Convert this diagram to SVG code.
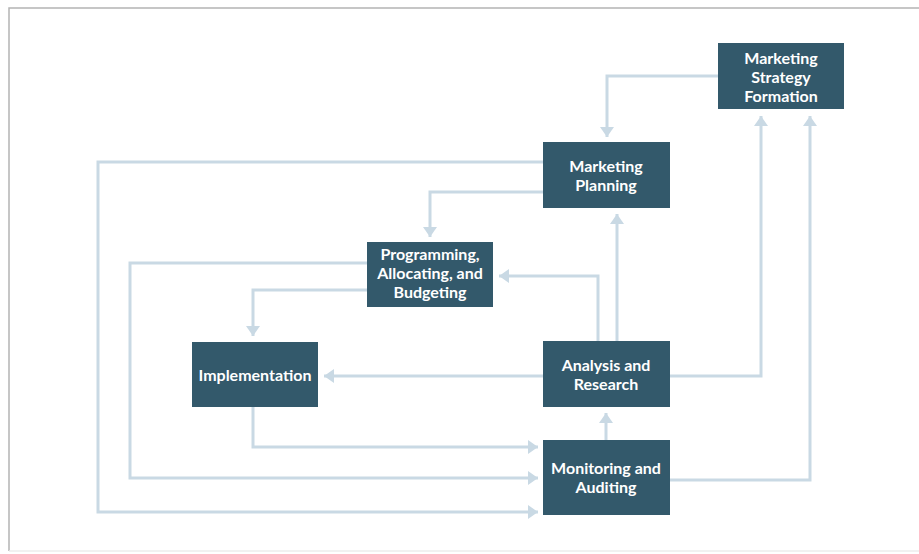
<svg xmlns="http://www.w3.org/2000/svg" width="919" height="554" viewBox="0 0 919 554">
  <style>
    .box { fill: #33596b; }
    .label { fill: #ffffff; font-family: Lato, "Liberation Sans", sans-serif; font-weight: 700; font-size: 16px; text-anchor: middle; }
    .link { fill: none; stroke: #c9d9e4; stroke-width: 3; marker-end: url(#head); }
  </style>
  <defs>
    <marker id="head" markerUnits="userSpaceOnUse" markerWidth="11" markerHeight="16" refX="10" refY="8" orient="auto">
      <path d="M0,1 L10,8 L0,15 z" fill="#c9d9e4"/>
    </marker>
    <filter id="soft" x="-50%" y="-50%" width="200%" height="200%">
      <feGaussianBlur stdDeviation="2"/>
    </filter>
  </defs>

  <rect width="919" height="554" fill="#ffffff"/>

  <!-- page frame -->
  <g id="frame">
    <path d="M6,553 V10" stroke="#c8c8c8" stroke-width="4" fill="none" filter="url(#soft)"/>
    <path d="M9,551 V8 H919" stroke="#b4b4b4" stroke-width="1.5" fill="none"/>
    <path d="M9,551 H919" stroke="#ececec" stroke-width="1.5" fill="none"/>
  </g>

  <!-- connectors -->
  <g id="connectors">
    <path class="link" d="M718,76 H607 V137"/>
    <path class="link" d="M543,192 H430 V237"/>
    <path class="link" d="M543,162 H98 V512 H538"/>
    <path class="link" d="M367,263 H130 V478 H538"/>
    <path class="link" d="M367,290 H253 V336"/>
    <path class="link" d="M598,341 V276 H499"/>
    <path class="link" d="M617,341 V214"/>
    <path class="link" d="M543,376 H324"/>
    <path class="link" d="M670,376 H761 V116"/>
    <path class="link" d="M670,480 H810 V116"/>
    <path class="link" d="M253,407 V447 H538"/>
    <path class="link" d="M606,440 V413"/>
  </g>

  <g id="strategy">
    <rect class="box" x="718" y="43" width="126" height="66"/>
    <text class="label" x="781" y="64">Marketing</text>
    <text class="label" x="781" y="83">Strategy</text>
    <text class="label" x="781" y="102">Formation</text>
  </g>

  <g id="planning">
    <rect class="box" x="543" y="142" width="127" height="66"/>
    <text class="label" x="606" y="172">Marketing</text>
    <text class="label" x="606" y="191">Planning</text>
  </g>

  <g id="programming">
    <rect class="box" x="367" y="242" width="126" height="65"/>
    <text class="label" x="430" y="260">Programming,</text>
    <text class="label" x="430" y="279">Allocating, and</text>
    <text class="label" x="430" y="298">Budgeting</text>
  </g>

  <g id="implementation">
    <rect class="box" x="192" y="342" width="126" height="65"/>
    <text class="label" x="255" y="381">Implementation</text>
  </g>

  <g id="analysis">
    <rect class="box" x="543" y="341" width="127" height="66"/>
    <text class="label" x="606" y="371">Analysis and</text>
    <text class="label" x="606" y="390">Research</text>
  </g>

  <g id="monitoring">
    <rect class="box" x="543" y="440" width="127" height="75"/>
    <text class="label" x="606" y="474">Monitoring and</text>
    <text class="label" x="606" y="493">Auditing</text>
  </g>
</svg>
